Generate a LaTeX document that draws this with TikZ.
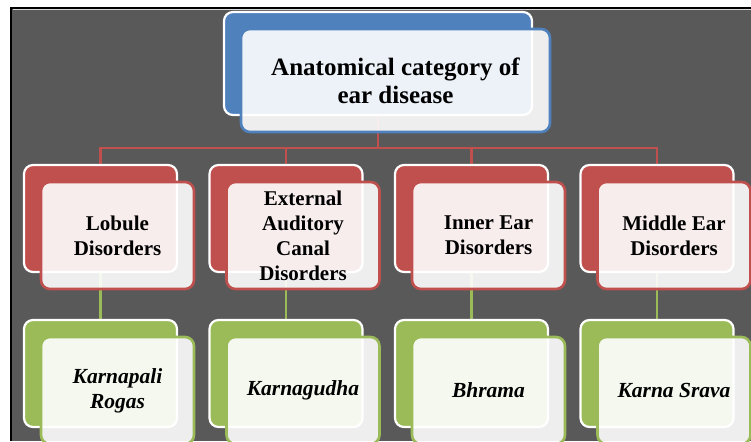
\documentclass[tikz,border=0pt]{standalone}
\usepackage{fontspec}
\setmainfont{Liberation Serif}
\definecolor{cblue}{HTML}{4F81BD}
\definecolor{cred}{HTML}{C0504D}
\definecolor{cgreen}{HTML}{9BBB59}
\definecolor{cbg}{HTML}{595959}
\pgfdeclarelayer{bglayer}
\pgfdeclarelayer{connlayer}
\pgfsetlayers{bglayer,connlayer,main}
\begin{document}
\begin{tikzpicture}[x=1pt,y=-1pt,
  backbox/.style={draw=white, line width=2.2pt, rounded corners=9pt, minimum width=153pt, minimum height=107pt, inner sep=0pt},
  frontbox/.style={line width=2.6pt, rounded corners=9pt, fill=white, fill opacity=0.9, text opacity=1, draw opacity=1, minimum width=153pt, minimum height=107pt, inner sep=0pt, align=center, text=black},
  lvltwo/.style={frontbox, draw=cred, font=\bfseries\fontsize{21}{25}\selectfont},
  lvlthree/.style={frontbox, draw=cgreen, font=\bfseries\itshape\fontsize{21.5}{25}\selectfont},
  redline/.style={draw=cred, line width=2.5pt},
  greenline/.style={draw=cgreen, line width=2.5pt}]
\useasboundingbox (0,0) rectangle (751,441);

% back boxes
\node[backbox, fill=cblue, minimum width=308pt, minimum height=103pt] (tb) at (378,63.5) {};
\node[backbox, fill=cred] (la) at (100.5,218.5) {};
\node[backbox, fill=cred] (lb) at (286,218.5) {};
\node[backbox, fill=cred] (lc) at (471.5,218.5) {};
\node[backbox, fill=cred] (ld) at (657,218.5) {};
\node[backbox, fill=cgreen] (ka) at (100.5,373.5) {};
\node[backbox, fill=cgreen] (kb) at (286,373.5) {};
\node[backbox, fill=cgreen] (kc) at (471.5,373.5) {};
\node[backbox, fill=cgreen] (kd) at (657,373.5) {};

% front boxes with text
\node[frontbox, draw=cblue, minimum width=309pt, minimum height=103pt, font=\bfseries\fontsize{25}{28}\selectfont] (tf) at (395.5,80.5) {Anatomical category of\\ear disease};
\node[lvltwo] (fa) at (117.5,235.5) {Lobule\\Disorders};
\node[lvltwo] (fb) at (303,235.5) {External\\Auditory\\Canal\\Disorders};
\node[lvltwo] (fc) at (488.5,235.5) {Inner Ear\\Disorders};
\node[lvltwo] (fd) at (674,235.5) {Middle Ear\\Disorders};
\node[lvlthree] (ga) at (117.5,390.5) {Karnapali\\Rogas};
\node[lvlthree] (gb) at (303,390.5) {Karnagudha};
\node[lvlthree] (gc) at (488.5,390.5) {Bhrama};
\node[lvlthree] (gd) at (674,390.5) {Karna Srava};

\begin{pgfonlayer}{bglayer}
\fill[white] (0,0) rectangle (751,441);
\fill[cbg] (11,8) rectangle (751,441);
\draw[black, line width=2pt] (11,441) -- (11,8) -- (751,8);
\draw[white!70!gray, line width=0.8pt] (12.5,9.8) -- (751,9.8);
\end{pgfonlayer}

\begin{pgfonlayer}{connlayer}
\coordinate (bus) at (378,148);
\draw[redline] (tb.south) -- (bus);
\draw[redline] (bus) -| (la.north);
\draw[redline] (bus) -| (lb.north);
\draw[redline] (bus) -| (lc.north);
\draw[redline] (bus) -| (ld.north);
\draw[greenline] (la.south) -- (ka.north);
\draw[greenline] (lb.south) -- (kb.north);
\draw[greenline] (lc.south) -- (kc.north);
\draw[greenline] (ld.south) -- (kd.north);
\end{pgfonlayer}
\end{tikzpicture}
\end{document}
